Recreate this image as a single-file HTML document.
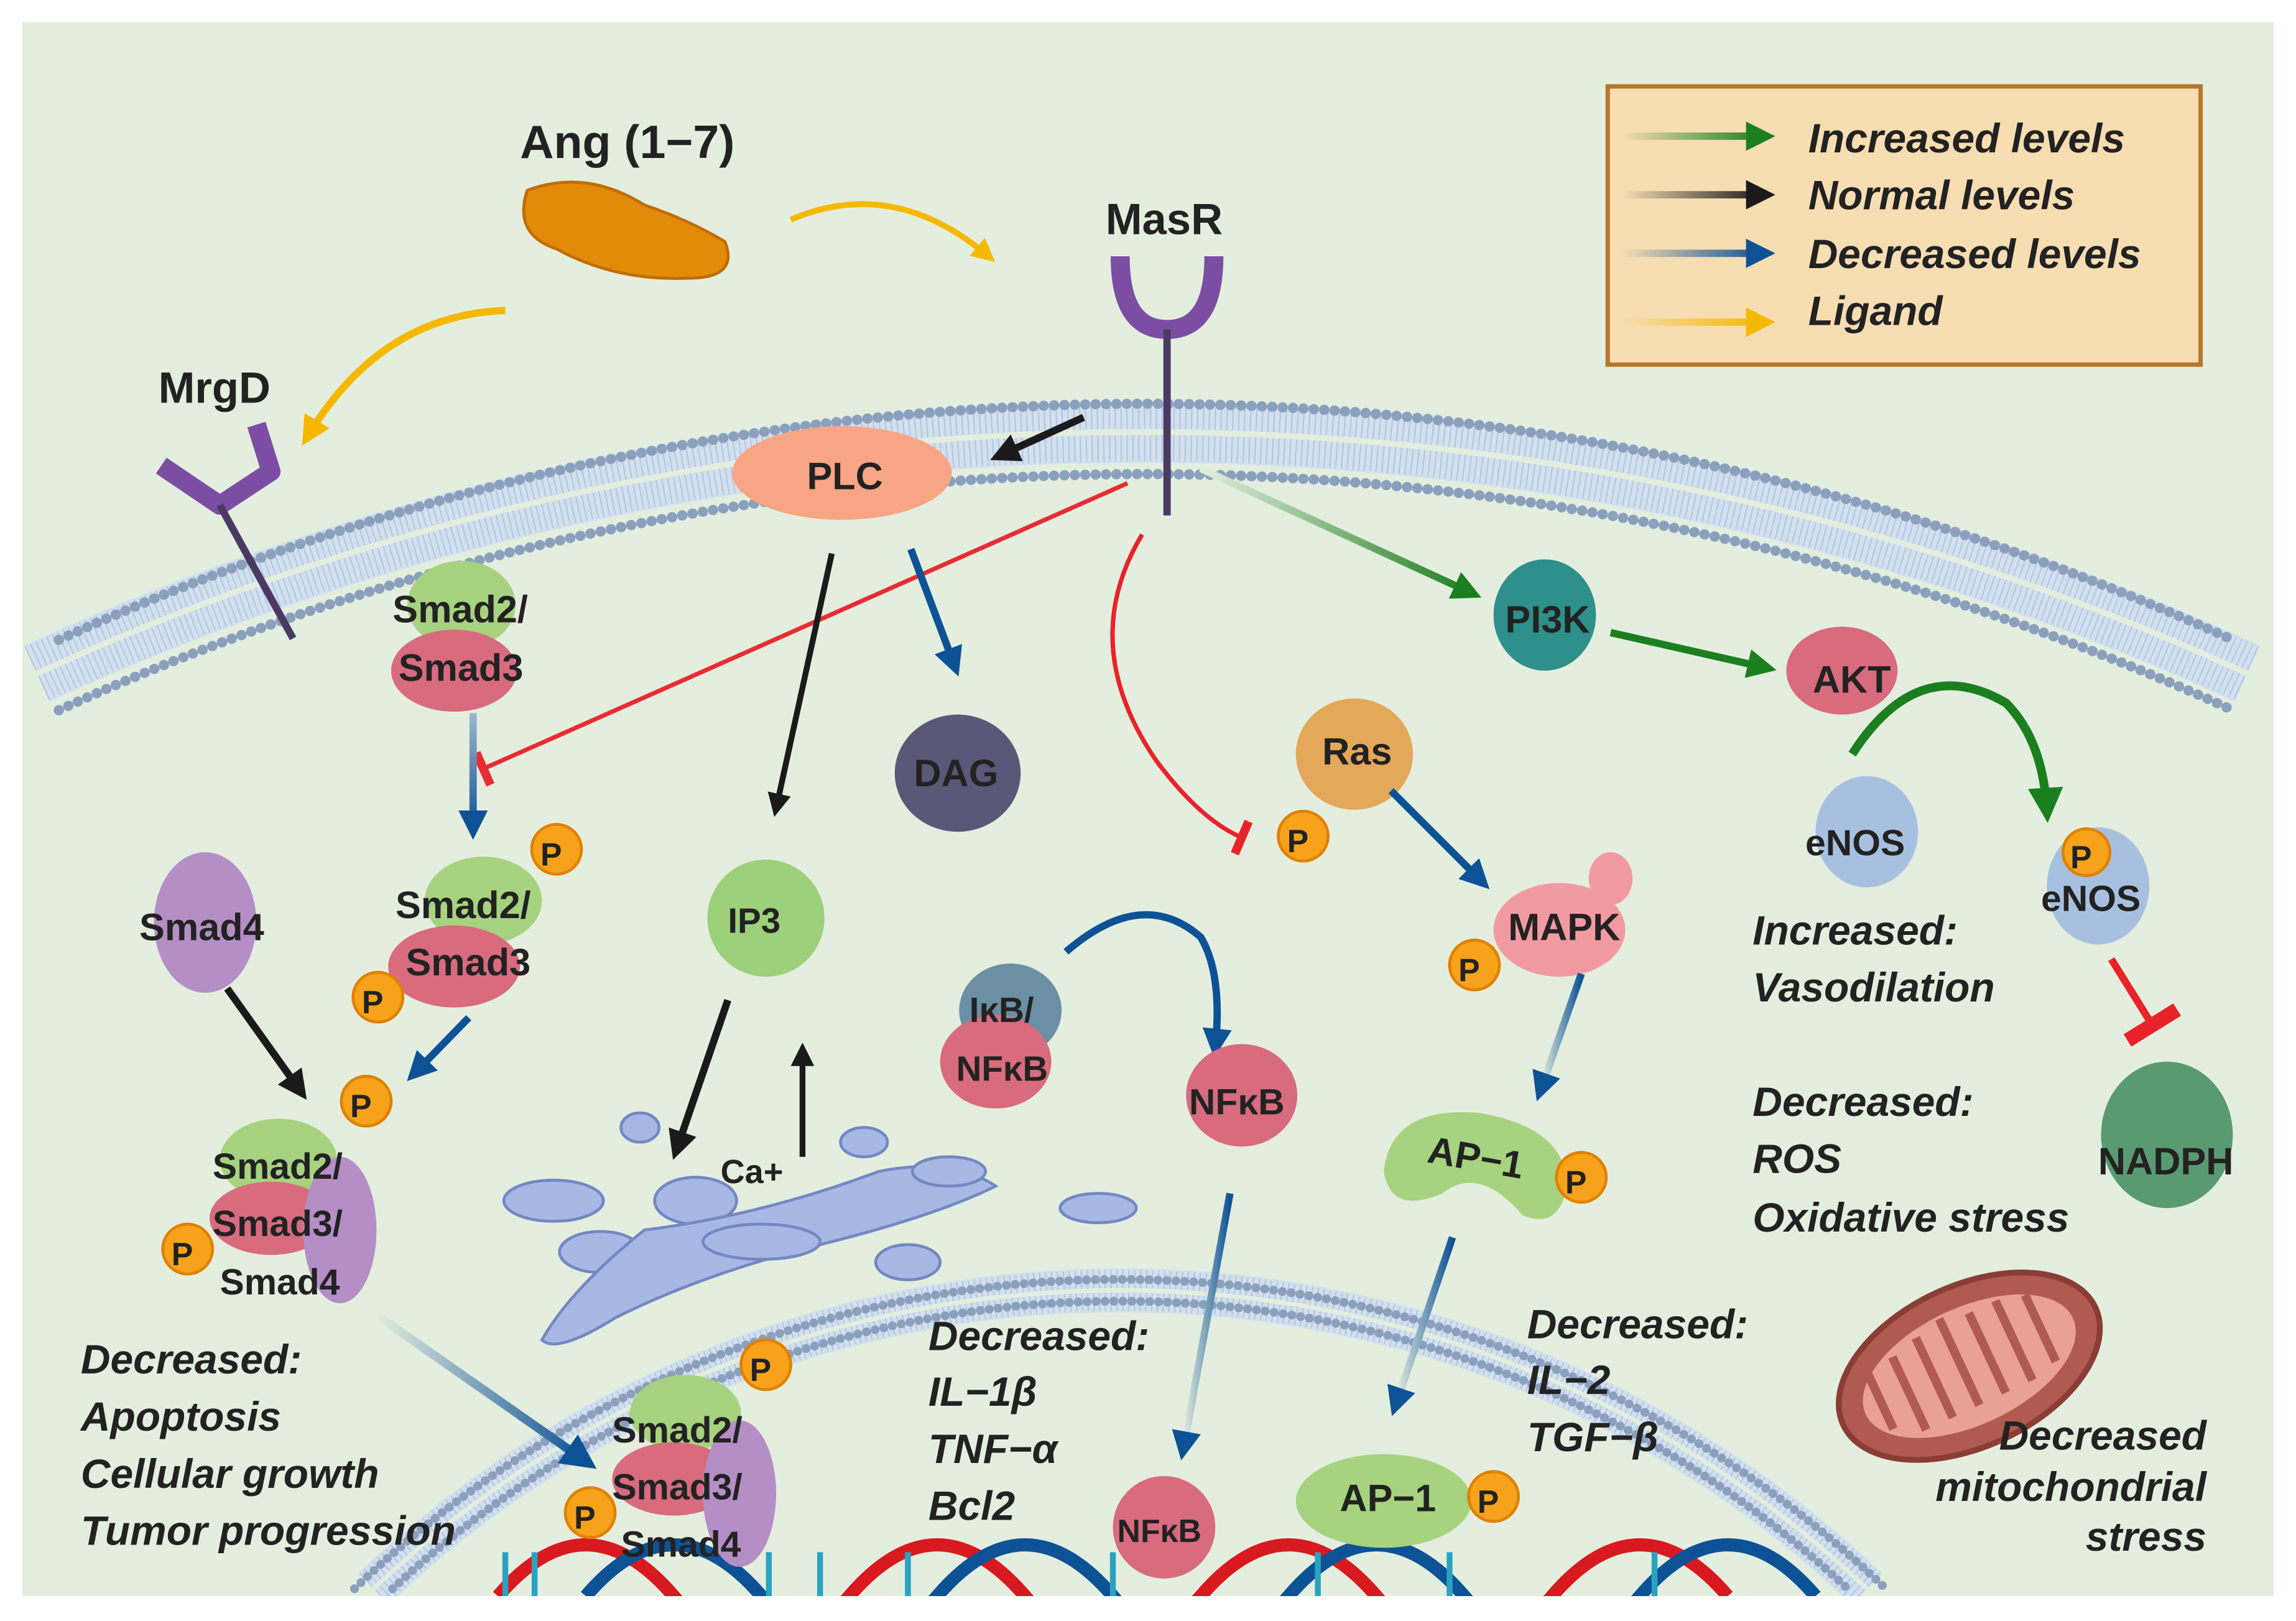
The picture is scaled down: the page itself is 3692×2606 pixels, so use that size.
<!DOCTYPE html>
<html><head><meta charset="utf-8"><style>
html,body{margin:0;padding:0;background:#fff}
svg{display:block}
text{font-family:"Liberation Sans",sans-serif;font-weight:bold;fill:#222}
.it{font-style:italic}
</style></head><body>
<svg width="3692" height="2606" viewBox="0 0 1568 1107" xmlns="http://www.w3.org/2000/svg">
<defs>
<marker id="mk" markerWidth="4" markerHeight="4" refX="2.5" refY="2" orient="auto" markerUnits="strokeWidth"><path d="M0,0 L4,2 L0,4 Z" fill="#1a1a1a"/></marker>
<marker id="mb" markerWidth="4" markerHeight="4" refX="2.5" refY="2" orient="auto" markerUnits="strokeWidth"><path d="M0,0 L4,2 L0,4 Z" fill="#0e5296"/></marker>
<marker id="mg" markerWidth="4" markerHeight="4" refX="2.5" refY="2" orient="auto" markerUnits="strokeWidth"><path d="M0,0 L4,2 L0,4 Z" fill="#1c7f1f"/></marker>
<marker id="my" markerWidth="4" markerHeight="4" refX="2.5" refY="2" orient="auto" markerUnits="strokeWidth"><path d="M0,0 L4,2 L0,4 Z" fill="#f5b800"/></marker>
<marker id="mr" markerWidth="2" markerHeight="8" refX="1" refY="4" orient="auto" markerUnits="strokeWidth"><rect x="0" y="0" width="2" height="8" fill="#e8232a"/></marker>
<linearGradient id="gG" x1="0" x2="1"><stop offset="0" stop-color="#e4eedf"/><stop offset="1" stop-color="#1c7f1f"/></linearGradient>
<linearGradient id="gB" x1="0" x2="1"><stop offset="0" stop-color="#e4eedf"/><stop offset="1" stop-color="#0e5296"/></linearGradient>
<linearGradient id="lG" gradientUnits="userSpaceOnUse" x1="1108" y1="0" x2="1205" y2="0"><stop offset="0" stop-color="#f7ddb2"/><stop offset="1" stop-color="#1c7f1f"/></linearGradient>
<linearGradient id="lK" gradientUnits="userSpaceOnUse" x1="1108" y1="0" x2="1205" y2="0"><stop offset="0" stop-color="#f7ddb2"/><stop offset="1" stop-color="#1a1a1a"/></linearGradient>
<linearGradient id="lB" gradientUnits="userSpaceOnUse" x1="1108" y1="0" x2="1205" y2="0"><stop offset="0" stop-color="#f7ddb2"/><stop offset="1" stop-color="#0e5296"/></linearGradient>
<linearGradient id="lY" gradientUnits="userSpaceOnUse" x1="1108" y1="0" x2="1205" y2="0"><stop offset="0" stop-color="#f7ddb2"/><stop offset="1" stop-color="#f5b800"/></linearGradient>
<linearGradient id="vB" gradientUnits="userSpaceOnUse" x1="0" y1="487" x2="0" y2="566"><stop offset="0" stop-color="#9fb7cf"/><stop offset="1" stop-color="#0e5296"/></linearGradient>
</defs>
<rect x="15" y="15" width="1538" height="1075" fill="#e4eedf"/>
<!-- cell membrane -->
<path d="M25,460 A1810,1810 0 0 1 1535,460" fill="none" stroke="#d3e0ee" stroke-width="42"/>
<path d="M25,460 A1810,1810 0 0 1 1535,460" fill="none" stroke="#b6c8e2" stroke-width="40" stroke-dasharray="1 3"/>
<path d="M25,460 A1810,1810 0 0 1 1535,460" fill="none" stroke="#e4eedf" stroke-width="4"/>
<path d="M40,440 A1790,1790 0 0 1 1525,440" fill="none" stroke="#8aa0bd" stroke-width="7" stroke-dasharray="0.1 7" stroke-linecap="round" transform="translate(0,-3)"/>
<path d="M40,485 A1790,1790 0 0 1 1525,485" fill="none" stroke="#8aa0bd" stroke-width="7" stroke-dasharray="0.1 7" stroke-linecap="round"/>
<!-- nuclear membrane -->
<path d="M255,1085 A740,740 0 0 1 1275,1085" fill="none" stroke="#d3e0ee" stroke-width="30"/>
<path d="M255,1085 A740,740 0 0 1 1275,1085" fill="none" stroke="#b6c8e2" stroke-width="28" stroke-dasharray="1 3"/>
<path d="M255,1085 A740,740 0 0 1 1275,1085" fill="none" stroke="#e4eedf" stroke-width="3"/>
<path d="M242,1085 A753,753 0 0 1 1288,1085" fill="none" stroke="#8aa0bd" stroke-width="6" stroke-dasharray="0.1 6" stroke-linecap="round"/>
<path d="M268,1085 A727,727 0 0 1 1262,1085" fill="none" stroke="#8aa0bd" stroke-width="6" stroke-dasharray="0.1 6" stroke-linecap="round"/>
<!-- DNA -->
<path d="M340,1090 Q400,1020 460,1090 T580,1090 T700,1090 T820,1090 T940,1090 T1060,1090 T1180,1090" fill="none" stroke="#d8191f" stroke-width="9"/>
<path d="M340,1090 Q400,1020 460,1090 T580,1090 T700,1090 T820,1090 T940,1090 T1060,1090 T1180,1090" fill="none" stroke="#0e5296" stroke-width="9" transform="translate(60,0)"/>
<g stroke="#2aa3c2" stroke-width="4"><path d="M345,1060v30M365,1060v30M525,1060v30M560,1060v30M620,1060v30M760,1060v30M900,1060v30M990,1060v30M1130,1060v30"/></g>
<rect x="15" y="1090" width="1538" height="17" fill="#fff"/>
<!-- legend -->
<rect x="1098" y="59" width="405" height="190" fill="#f7ddb2" stroke="#b7772b" stroke-width="3"/>
<g stroke-width="5">
<line x1="1108" y1="93" x2="1205" y2="93" stroke="url(#lG)" marker-end="url(#mg)"/>
<line x1="1108" y1="133" x2="1205" y2="133" stroke="url(#lK)" marker-end="url(#mk)"/>
<line x1="1108" y1="173" x2="1205" y2="173" stroke="url(#lB)" marker-end="url(#mb)"/>
<line x1="1108" y1="220" x2="1205" y2="220" stroke="url(#lY)" marker-end="url(#my)"/>
</g>
<g font-size="28" class="it"><text x="1235" y="104" class="it">Increased levels</text><text x="1235" y="143" class="it">Normal levels</text><text x="1235" y="183" class="it">Decreased levels</text><text x="1235" y="222" class="it">Ligand</text></g>
<!-- Ang -->
<text x="355" y="108" font-size="32">Ang (1−7)</text>
<path d="M360,130 Q400,115 440,140 Q470,150 495,165 Q505,190 470,190 Q420,192 380,170 Q350,160 360,130Z" fill="#e28a0a" stroke="#c06c00" stroke-width="2"/>
<path d="M540,150 Q610,120 675,175" fill="none" stroke="#f5b800" stroke-width="4" marker-end="url(#my)"/>
<path d="M345,212 Q260,215 210,298" fill="none" stroke="#f5b800" stroke-width="5" marker-end="url(#my)"/>
<!-- MasR -->
<text x="755" y="160" font-size="30">MasR</text>
<path d="M765,175 Q765,225 797,225 Q829,225 829,175" fill="none" stroke="#7b4ea3" stroke-width="13"/>
<line x1="797" y1="225" x2="797" y2="352" stroke="#4a3a63" stroke-width="5"/>
<!-- MrgD -->
<text x="108" y="275" font-size="30">MrgD</text>
<path d="M110,318 L150,345 L185,322 L175,290" fill="none" stroke="#7b4ea3" stroke-width="13" stroke-linejoin="round"/>
<line x1="150" y1="345" x2="200" y2="436" stroke="#4a3a63" stroke-width="5"/>
<!-- PLC -->
<ellipse cx="575" cy="323" rx="75" ry="32" fill="#f8a585"/>
<text x="551" y="334" font-size="26">PLC</text>
<line x1="740" y1="285" x2="683" y2="311" stroke="#1a1a1a" stroke-width="5" marker-end="url(#mk)"/>
<line x1="770" y1="330" x2="330" y2="525" stroke="#e8232a" stroke-width="3" marker-end="url(#mr)" opacity="0.95"/>
<line x1="568" y1="378" x2="530" y2="552" stroke="#1a1a1a" stroke-width="4" marker-end="url(#mk)"/>
<line x1="622" y1="375" x2="652" y2="455" stroke="#0e5296" stroke-width="5" marker-end="url(#mb)"/>
<path d="M780,365 Q735,440 790,520 Q820,560 848,572" fill="none" stroke="#e8232a" stroke-width="3" marker-end="url(#mr)"/>
<line x1="820" y1="320" x2="1005" y2="405" stroke="url(#gG)" stroke-width="5" marker-end="url(#mg)"/>
<!-- PI3K AKT -->
<ellipse cx="1055" cy="420" rx="35" ry="38" fill="#2f8f8a"/>
<text x="1028" y="432" font-size="26">PI3K</text>
<line x1="1100" y1="432" x2="1206" y2="456" stroke="#1c7f1f" stroke-width="5" marker-end="url(#mg)"/>
<ellipse cx="1258" cy="458" rx="38" ry="30" fill="#d86b7e"/>
<text x="1238" y="473" font-size="26">AKT</text>
<path d="M1265,515 Q1310,445 1370,480 Q1395,505 1398,553" fill="none" stroke="#1c7f1f" stroke-width="6" marker-end="url(#mg)"/>
<ellipse cx="1275" cy="568" rx="35" ry="38" fill="#a8c0e0"/>
<text x="1233" y="584" font-size="25">eNOS</text>
<ellipse cx="1433" cy="605" rx="35" ry="40" fill="#a8c0e0"/>
<text x="1394" y="622" font-size="25">eNOS</text>
<circle cx="1425" cy="582" r="16" fill="#f6a31b" stroke="#e08000" stroke-width="2"/><text x="1414" y="593" font-size="22" font-weight="normal">P</text>
<line x1="1442" y1="655" x2="1470" y2="700" stroke="#e8232a" stroke-width="5" marker-end="url(#mr)"/>
<ellipse cx="1480" cy="775" rx="45" ry="50" fill="#5a9a72"/>
<text x="1433" y="802" font-size="26">NADPH</text>
<g font-size="28" class="it"><text x="1197" y="645" class="it">Increased:</text><text x="1197" y="684" class="it">Vasodilation</text><text x="1197" y="762" class="it">Decreased:</text><text x="1197" y="801" class="it">ROS</text><text x="1197" y="841" class="it">Oxidative  stress</text></g>
<!-- mitochondrion -->
<g transform="rotate(-25 1345 933)"><ellipse cx="1345" cy="933" rx="95" ry="55" fill="#b05a52" stroke="#8a3d35" stroke-width="4"/><ellipse cx="1345" cy="933" rx="78" ry="40" fill="#e9a196"/><path d="M1280,900 v50 M1300,960 v-55 M1320,900 v60 M1340,960 v-65 M1360,900 v60 M1380,960 v-60 M1400,905 v50" stroke="#b05a52" stroke-width="6"/></g>
<g font-size="28" class="it" text-anchor="end"><text x="1507" y="990" class="it">Decreased</text><text x="1507" y="1025" class="it">mitochondrial</text><text x="1507" y="1059" class="it">stress</text></g>
<!-- Ras MAPK AP1 -->
<ellipse cx="925" cy="515" rx="40" ry="38" fill="#e4a85a"/>
<text x="903" y="522" font-size="26">Ras</text>
<circle cx="890" cy="571" r="17" fill="#f6a31b" stroke="#e08000" stroke-width="2"/><text x="879" y="582" font-size="22" font-weight="normal">P</text>
<line x1="950" y1="540" x2="1012" y2="602" stroke="#0e5296" stroke-width="5" marker-end="url(#mb)"/>
<ellipse cx="1065" cy="635" rx="45" ry="32" fill="#f29aa2"/>
<ellipse cx="1100" cy="600" rx="15" ry="18" fill="#f29aa2"/>
<text x="1030" y="642" font-size="26">MAPK</text>
<circle cx="1007" cy="659" r="17" fill="#f6a31b" stroke="#e08000" stroke-width="2"/><text x="996" y="670" font-size="22" font-weight="normal">P</text>
<line x1="1080" y1="665" x2="1052" y2="745" stroke="url(#gB)" stroke-width="5" marker-end="url(#mb)"/>
<path d="M945,800 Q950,755 1010,760 Q1070,770 1070,810 Q1065,840 1040,830 Q1010,795 985,815 Q950,830 945,800Z" fill="#a7d27f"/>
<text x="975" y="798" font-size="26" transform="rotate(10 1000 790)">AP−1</text>
<circle cx="1080" cy="804" r="17" fill="#f6a31b" stroke="#e08000" stroke-width="2"/><text x="1069" y="815" font-size="22" font-weight="normal">P</text>
<line x1="992" y1="845" x2="953" y2="960" stroke="url(#gB)" stroke-width="5" marker-end="url(#mb)"/>
<ellipse cx="945" cy="1025" rx="60" ry="32" fill="#a7d27f"/>
<text x="915" y="1032" font-size="26">AP−1</text>
<circle cx="1020" cy="1022" r="17" fill="#f6a31b" stroke="#e08000" stroke-width="2"/><text x="1009" y="1033" font-size="22" font-weight="normal">P</text>
<g font-size="28" class="it"><text x="1043" y="914" class="it">Decreased:</text><text x="1043" y="952" class="it">IL−2</text><text x="1043" y="991" class="it">TGF−β</text></g>
<!-- DAG IP3 -->
<ellipse cx="654" cy="528" rx="43" ry="40" fill="#5a5878"/>
<text x="624" y="537" font-size="26">DAG</text>
<ellipse cx="523" cy="627" rx="40" ry="40" fill="#9cd07a"/>
<text x="497" y="637" font-size="24">IP3</text>
<line x1="497" y1="683" x2="462" y2="785" stroke="#1a1a1a" stroke-width="5" marker-end="url(#mk)"/>
<line x1="548" y1="790" x2="548" y2="718" stroke="#1a1a1a" stroke-width="4" marker-end="url(#mk)"/>
<text x="492" y="808" font-size="23">Ca+</text>
<!-- ER -->
<g fill="#a8b8e5" stroke="#7388c2" stroke-width="2">
<ellipse cx="437" cy="770" rx="13" ry="10"/><ellipse cx="378" cy="820" rx="34" ry="14"/><ellipse cx="410" cy="855" rx="28" ry="14"/><ellipse cx="475" cy="820" rx="28" ry="16"/>
<path d="M440,840 Q520,830 600,800 Q650,790 680,810 Q640,830 560,850 Q480,870 420,900 Q380,925 370,915 Q390,880 440,840Z"/>
<ellipse cx="590" cy="780" rx="16" ry="10"/><ellipse cx="648" cy="800" rx="25" ry="10"/><ellipse cx="750" cy="825" rx="26" ry="10"/><ellipse cx="620" cy="862" rx="22" ry="12"/><ellipse cx="520" cy="848" rx="40" ry="12"/>
</g>
<!-- IkB NFkB -->
<ellipse cx="690" cy="690" rx="35" ry="32" fill="#6b8fa4"/>
<ellipse cx="680" cy="725" rx="38" ry="32" fill="#d86b7e"/>
<text x="662" y="698" font-size="24">IκB/</text>
<text x="653" y="738" font-size="24">NFκB</text>
<path d="M728,650 Q780,605 820,640 Q835,665 830,715" fill="none" stroke="#0e5296" stroke-width="5" marker-end="url(#mb)"/>
<ellipse cx="848" cy="748" rx="38" ry="35" fill="#d86b7e"/>
<text x="812" y="761" font-size="25">NFκB</text>
<line x1="840" y1="815" x2="808" y2="990" stroke="url(#gB)" stroke-width="5" marker-end="url(#mb)"/>
<ellipse cx="795" cy="1043" rx="35" ry="35" fill="#d86b7e"/>
<text x="763" y="1053" font-size="22">NFκB</text>
<g font-size="28" class="it"><text x="634" y="922" class="it">Decreased:</text><text x="634" y="960" class="it">IL−1β</text><text x="634" y="999" class="it">TNF−α</text><text x="634" y="1038" class="it">Bcl2</text></g>
<!-- Smad -->
<ellipse cx="315" cy="413" rx="37" ry="30" fill="#a7d27f"/>
<ellipse cx="310" cy="458" rx="43" ry="28" fill="#d86b7e"/>
<text x="268" y="425" font-size="26">Smad2/</text>
<text x="272" y="465" font-size="26">Smad3</text>
<line x1="323" y1="487" x2="323" y2="566" stroke="url(#vB)" stroke-width="5" marker-end="url(#mb)"/>
<ellipse cx="330" cy="615" rx="40" ry="30" fill="#a7d27f"/>
<ellipse cx="310" cy="660" rx="45" ry="28" fill="#d86b7e"/>
<text x="270" y="627" font-size="26">Smad2/</text>
<text x="277" y="666" font-size="26">Smad3</text>
<circle cx="380" cy="580" r="17" fill="#f6a31b" stroke="#e08000" stroke-width="2"/><text x="369" y="591" font-size="22" font-weight="normal">P</text>
<circle cx="258" cy="681" r="17" fill="#f6a31b" stroke="#e08000" stroke-width="2"/><text x="247" y="692" font-size="22" font-weight="normal">P</text>
<line x1="320" y1="695" x2="283" y2="733" stroke="#0e5296" stroke-width="5" marker-end="url(#mb)"/>
<ellipse cx="140" cy="630" rx="35" ry="48" fill="#b58ec6"/>
<text x="95" y="642" font-size="26">Smad4</text>
<line x1="155" y1="675" x2="205" y2="745" stroke="#1a1a1a" stroke-width="5" marker-end="url(#mk)"/>
<ellipse cx="190" cy="792" rx="40" ry="28" fill="#a7d27f"/>
<ellipse cx="185" cy="832" rx="42" ry="25" fill="#d86b7e"/>
<ellipse cx="232" cy="840" rx="25" ry="50" fill="#b58ec6"/>
<text x="145" y="805" font-size="25">Smad2/</text>
<text x="145" y="844" font-size="25">Smad3/</text>
<text x="150" y="884" font-size="25">Smad4</text>
<circle cx="250" cy="752" r="17" fill="#f6a31b" stroke="#e08000" stroke-width="2"/><text x="239" y="763" font-size="22" font-weight="normal">P</text>
<circle cx="128" cy="853" r="17" fill="#f6a31b" stroke="#e08000" stroke-width="2"/><text x="117" y="864" font-size="22" font-weight="normal">P</text>
<line x1="257" y1="898" x2="400" y2="998" stroke="url(#gB)" stroke-width="6" marker-end="url(#mb)"/>
<ellipse cx="468" cy="965" rx="38" ry="26" fill="#a7d27f"/>
<ellipse cx="460" cy="1010" rx="42" ry="25" fill="#d86b7e"/>
<ellipse cx="505" cy="1020" rx="25" ry="50" fill="#b58ec6"/>
<text x="418" y="985" font-size="25">Smad2/</text>
<text x="418" y="1024" font-size="25">Smad3/</text>
<text x="424" y="1063" font-size="25">Smad4</text>
<circle cx="523" cy="932" r="17" fill="#f6a31b" stroke="#e08000" stroke-width="2"/><text x="512" y="943" font-size="22" font-weight="normal">P</text>
<circle cx="403" cy="1033" r="17" fill="#f6a31b" stroke="#e08000" stroke-width="2"/><text x="392" y="1044" font-size="22" font-weight="normal">P</text>
<g font-size="28" class="it"><text x="55" y="938" class="it">Decreased:</text><text x="55" y="977" class="it">Apoptosis</text><text x="55" y="1016" class="it">Cellular growth</text><text x="55" y="1055" class="it">Tumor progression</text></g>
</svg>
</body></html>
